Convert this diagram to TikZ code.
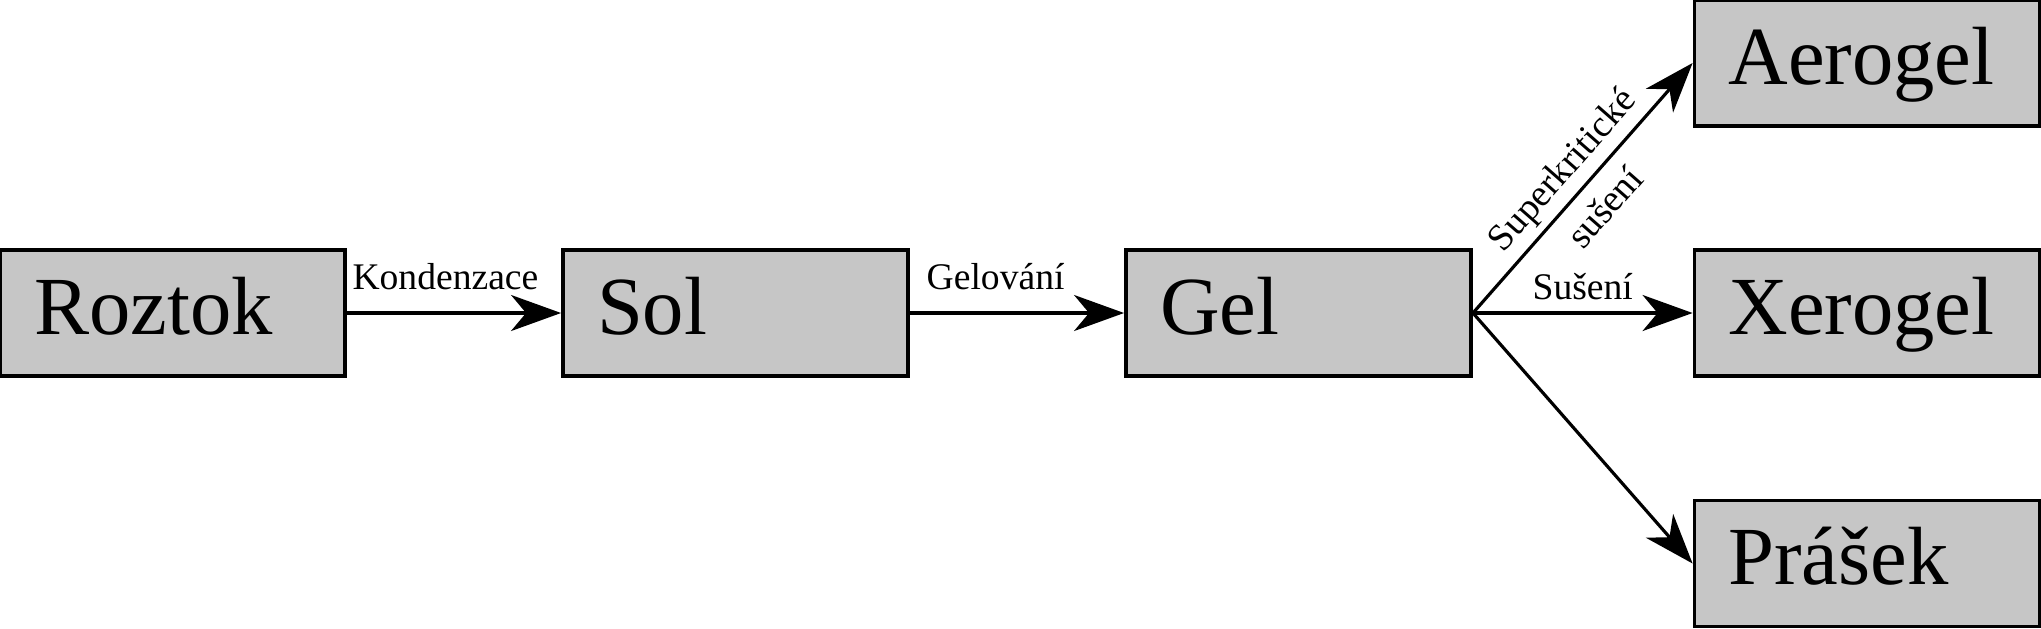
\documentclass[tikz,border=0pt]{standalone}
\usepackage{fontspec}
\setmainfont{Liberation Serif}
\usetikzlibrary{arrows.meta}
\definecolor{boxgray}{RGB}{198,198,198}
\tikzset{
  box/.style={draw,line width=1.1pt,fill=boxgray,rectangle,
    minimum height=1.26cm,text width=2.77cm,inner xsep=0.34cm,
    text height=0.45cm,text depth=0.03cm,align=left,
    font=\fontsize{23.5}{28}\selectfont},
  lbl/.style={font=\fontsize{10.7}{12.5}\selectfont,inner sep=2pt}
}
\begin{document}
\begin{tikzpicture}[>={Stealth[length=5mm,width=3.6mm,inset=1.5mm]},line width=0.9pt]
    \useasboundingbox (0,0) rectangle (20.41,6.28);
    \node[box] (roztok) at (1.725,3.15) {Roztok};
    \node[box] (sol) at (7.355,3.15) {Sol};
    \node[box] (gel) at (12.985,3.15) {Gel};
    \node[box] (aerogel) at (18.67,5.65) {Aerogel};
    \node[box] (xerogel) at (18.67,3.15) {Xerogel};
    \node[box] (prasek) at (18.67,0.645) {Prášek};
    \path[->](roztok) edge node[lbl,above=1.5mm,pos=0.46]{Kondenzace} (sol)
    (sol) edge node[lbl,above=1.5mm,pos=0.4]{Gelování} (gel)
    (gel.east) edge node[lbl,sloped,pos=0.5,align=center]{Superkritické\\[4pt]sušení} (aerogel.west)
    (gel.east) edge node[lbl,above=0.5mm]{Sušení} (xerogel.west)
    (gel.east) edge (prasek.west);
  \end{tikzpicture}
\end{document}
